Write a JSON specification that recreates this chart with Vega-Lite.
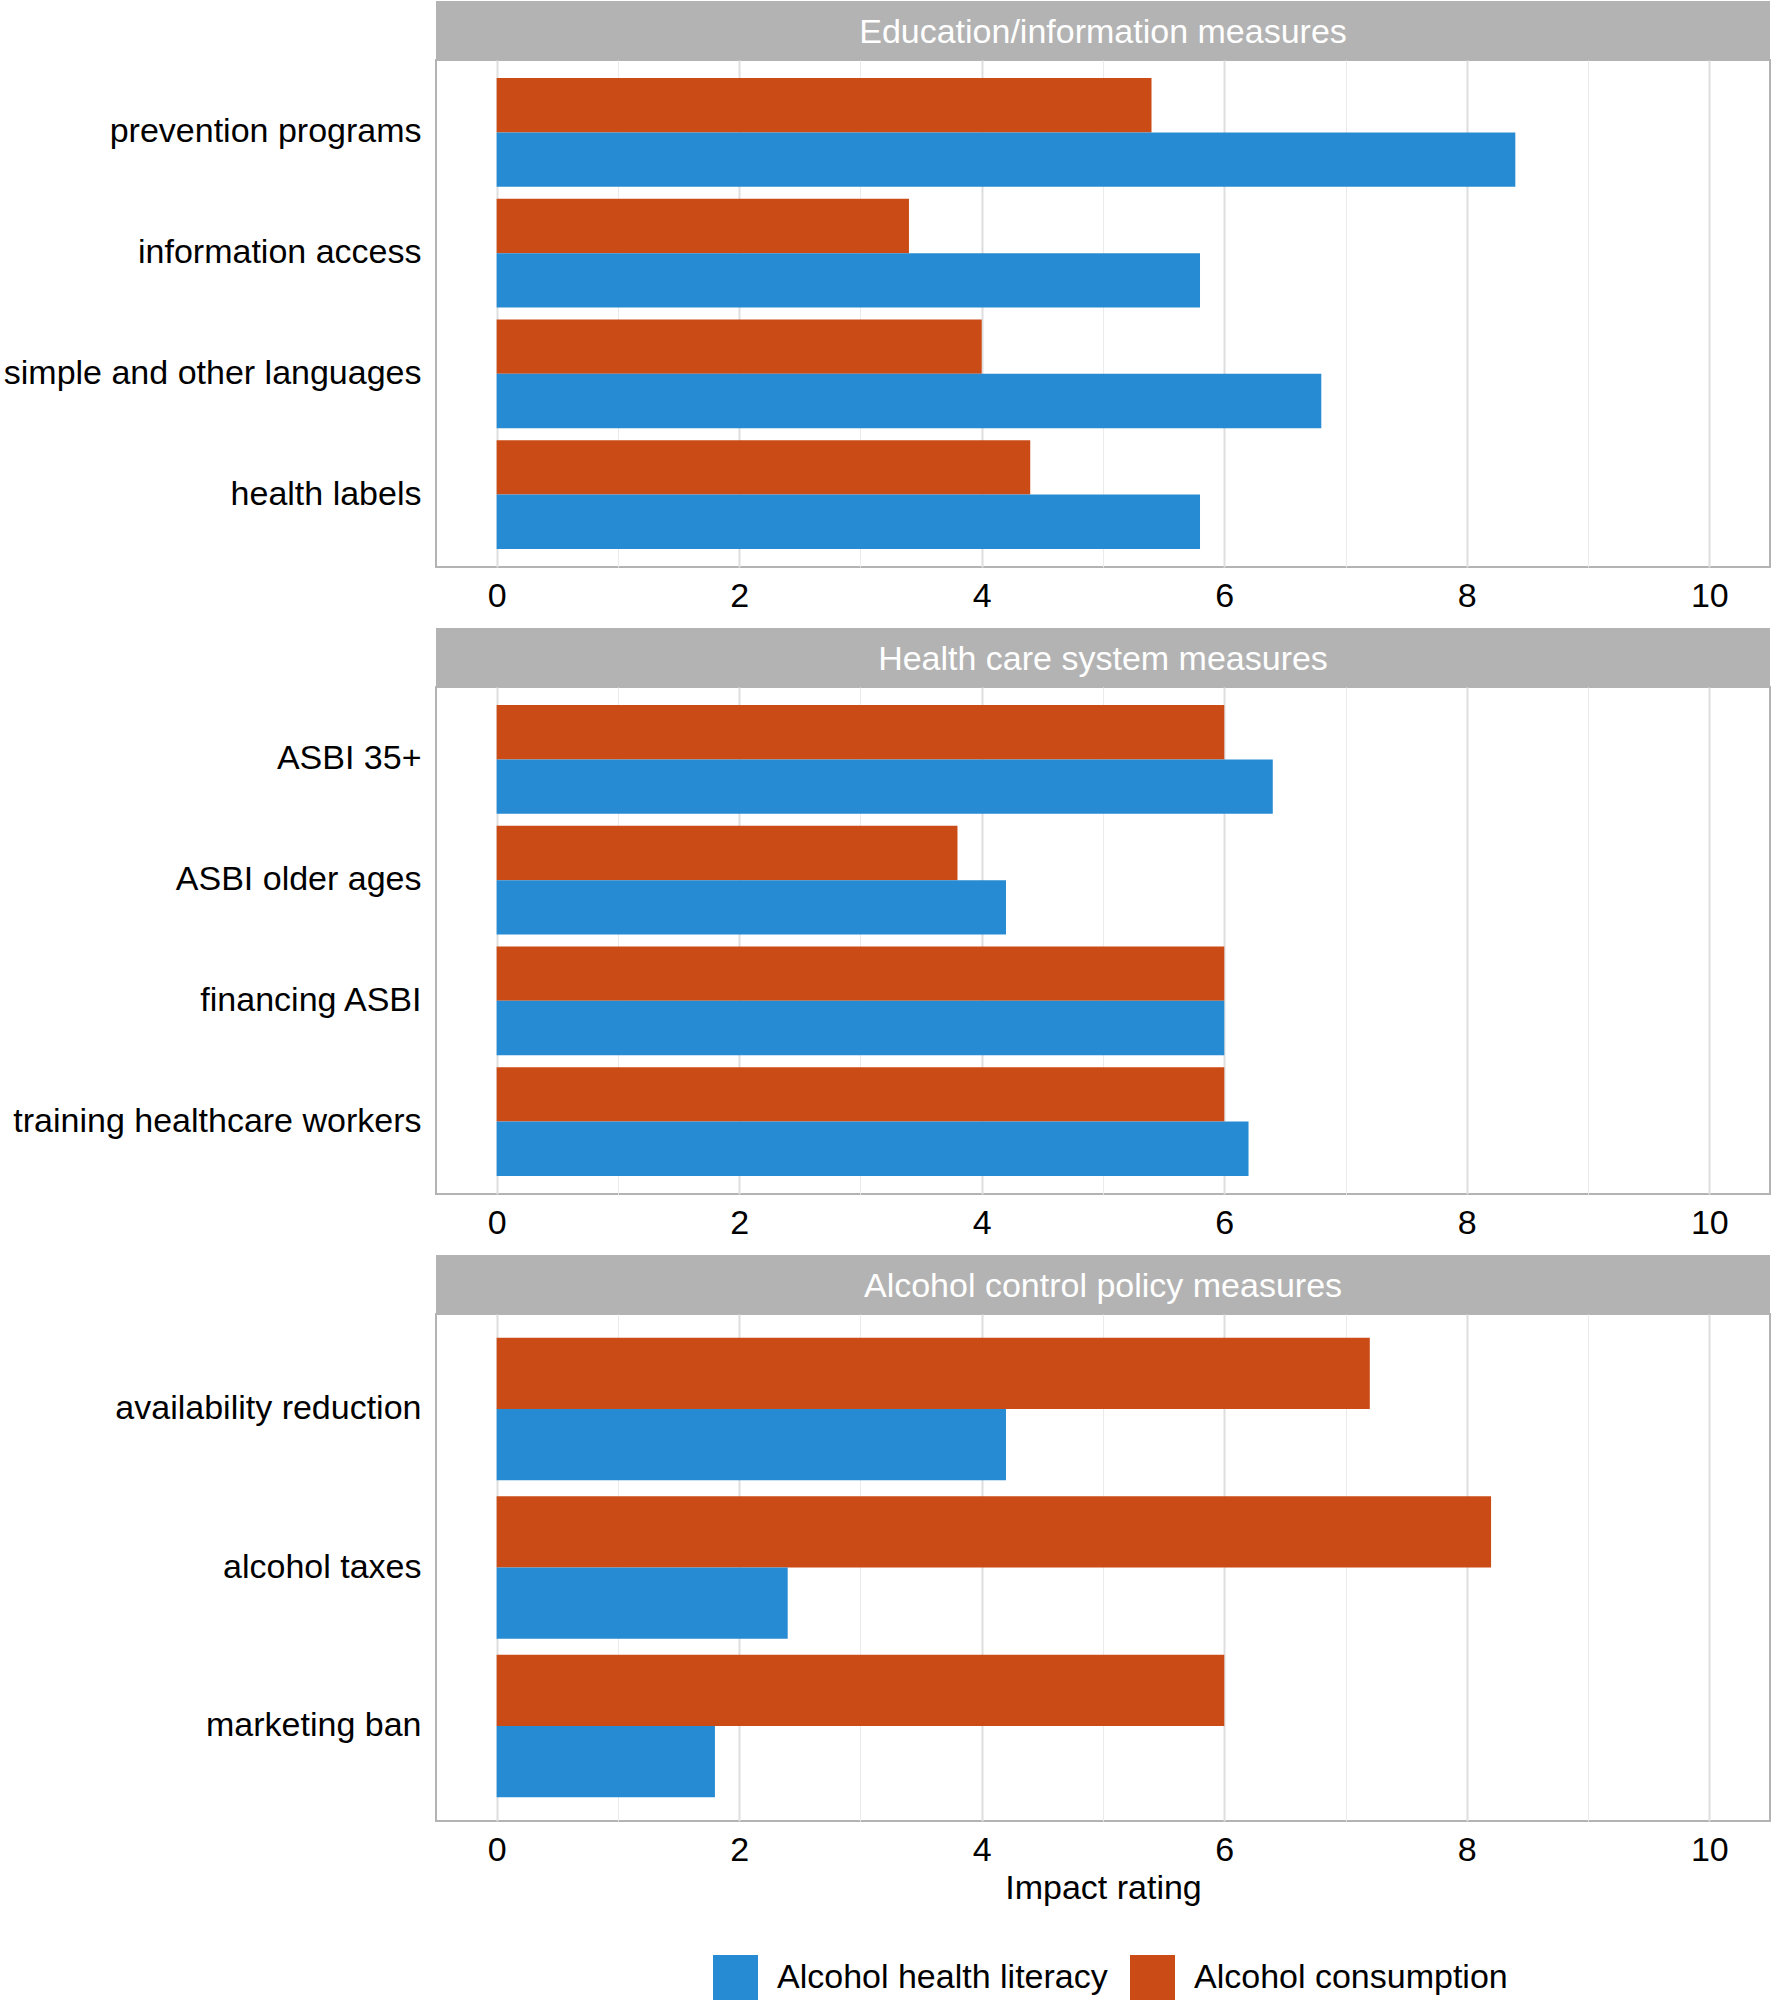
{
  "$schema": "https://vega.github.io/schema/vega-lite/v6.json",
  "background": "white",
  "padding": {"left": 2, "top": 1, "right": 2, "bottom": 2},
  "spacing": 0,
  "datasets": {
    "ratings": [
      {"panel": "Education/information measures", "measure": "prevention programs", "outcome": "Alcohol consumption", "rating": 5.4},
      {"panel": "Education/information measures", "measure": "prevention programs", "outcome": "Alcohol health literacy", "rating": 8.4},
      {"panel": "Education/information measures", "measure": "information access", "outcome": "Alcohol consumption", "rating": 3.4},
      {"panel": "Education/information measures", "measure": "information access", "outcome": "Alcohol health literacy", "rating": 5.8},
      {"panel": "Education/information measures", "measure": "simple and other languages", "outcome": "Alcohol consumption", "rating": 4.0},
      {"panel": "Education/information measures", "measure": "simple and other languages", "outcome": "Alcohol health literacy", "rating": 6.8},
      {"panel": "Education/information measures", "measure": "health labels", "outcome": "Alcohol consumption", "rating": 4.4},
      {"panel": "Education/information measures", "measure": "health labels", "outcome": "Alcohol health literacy", "rating": 5.8},
      {"panel": "Health care system measures", "measure": "ASBI 35+", "outcome": "Alcohol consumption", "rating": 6.0},
      {"panel": "Health care system measures", "measure": "ASBI 35+", "outcome": "Alcohol health literacy", "rating": 6.4},
      {"panel": "Health care system measures", "measure": "ASBI older ages", "outcome": "Alcohol consumption", "rating": 3.8},
      {"panel": "Health care system measures", "measure": "ASBI older ages", "outcome": "Alcohol health literacy", "rating": 4.2},
      {"panel": "Health care system measures", "measure": "financing ASBI", "outcome": "Alcohol consumption", "rating": 6.0},
      {"panel": "Health care system measures", "measure": "financing ASBI", "outcome": "Alcohol health literacy", "rating": 6.0},
      {"panel": "Health care system measures", "measure": "training healthcare workers", "outcome": "Alcohol consumption", "rating": 6.0},
      {"panel": "Health care system measures", "measure": "training healthcare workers", "outcome": "Alcohol health literacy", "rating": 6.2},
      {"panel": "Alcohol control policy measures", "measure": "availability reduction", "outcome": "Alcohol consumption", "rating": 7.2},
      {"panel": "Alcohol control policy measures", "measure": "availability reduction", "outcome": "Alcohol health literacy", "rating": 4.2},
      {"panel": "Alcohol control policy measures", "measure": "alcohol taxes", "outcome": "Alcohol consumption", "rating": 8.2},
      {"panel": "Alcohol control policy measures", "measure": "alcohol taxes", "outcome": "Alcohol health literacy", "rating": 2.4},
      {"panel": "Alcohol control policy measures", "measure": "marketing ban", "outcome": "Alcohol consumption", "rating": 6.0},
      {"panel": "Alcohol control policy measures", "measure": "marketing ban", "outcome": "Alcohol health literacy", "rating": 1.8}
    ],
    "strips": [
      {"panel": "Education/information measures"},
      {"panel": "Health care system measures"},
      {"panel": "Alcohol control policy measures"}
    ]
  },
  "vconcat": [
    {
      "width": 1334, "height": 58,
      "view": {"fill": "#b3b3b3", "stroke": null},
      "data": {"name": "strips"},
      "transform": [{"filter": "datum.panel === 'Education/information measures'"}],
      "mark": {"type": "text", "color": "white", "fontSize": 34, "font": "Liberation Sans", "align": "center", "baseline": "middle", "dy": 3},
      "encoding": {"text": {"field": "panel", "type": "nominal"}}
    },
    {
      "width": 1334, "height": 507,
      "data": {"name": "ratings"},
      "transform": [{"filter": "datum.panel === 'Education/information measures'"}],
      "mark": {"type": "bar"},
      "encoding": {
        "y": {"field": "measure", "type": "nominal", "sort": ["prevention programs", "information access", "simple and other languages", "health labels"], "scale": {"paddingInner": 0.1, "paddingOuter": 0.15}, "axis": {"title": null}},
        "yOffset": {"field": "outcome", "type": "nominal", "sort": ["Alcohol consumption", "Alcohol health literacy"], "scale": {"paddingInner": 0, "paddingOuter": 0}},
        "x": {"field": "rating", "type": "quantitative", "scale": {"domain": [-0.5, 10.5], "nice": false}, "axis": {"title": null, "values": [0,1,2,3,4,5,6,7,8,9,10], "labelExpr": "datum.value % 2 === 0 ? datum.label : ''", "gridColor": {"condition": {"test": "datum.value % 2 === 0", "value": "#dedede"}, "value": "#ebebeb"}, "gridWidth": {"condition": {"test": "datum.value % 2 === 0", "value": 2}, "value": 1}, "minExtent": 60}},
        "x2": {"datum": 0},
        "color": {"field": "outcome", "type": "nominal", "scale": {"domain": ["Alcohol health literacy", "Alcohol consumption"], "range": ["#268BD2", "#CB4B16"]}, "legend": {"title": null, "orient": "none", "direction": "horizontal", "legendX": 277, "legendY": 1954, "symbolType": "square", "symbolSize": 2025, "symbolStrokeWidth": 0, "symbolOpacity": 1, "labelFontSize": 34, "labelFont": "Liberation Sans", "labelColor": "black", "labelLimit": 700, "labelOffset": 19, "columnPadding": 22}}
      }
    },
    {
      "width": 1334, "height": 58,
      "view": {"fill": "#b3b3b3", "stroke": null},
      "data": {"name": "strips"},
      "transform": [{"filter": "datum.panel === 'Health care system measures'"}],
      "mark": {"type": "text", "color": "white", "fontSize": 34, "font": "Liberation Sans", "align": "center", "baseline": "middle", "dy": 3},
      "encoding": {"text": {"field": "panel", "type": "nominal"}}
    },
    {
      "width": 1334, "height": 507,
      "data": {"name": "ratings"},
      "transform": [{"filter": "datum.panel === 'Health care system measures'"}],
      "mark": {"type": "bar"},
      "encoding": {
        "y": {"field": "measure", "type": "nominal", "sort": ["ASBI 35+", "ASBI older ages", "financing ASBI", "training healthcare workers"], "scale": {"paddingInner": 0.1, "paddingOuter": 0.15}, "axis": {"title": null}},
        "yOffset": {"field": "outcome", "type": "nominal", "sort": ["Alcohol consumption", "Alcohol health literacy"], "scale": {"paddingInner": 0, "paddingOuter": 0}},
        "x": {"field": "rating", "type": "quantitative", "scale": {"domain": [-0.5, 10.5], "nice": false}, "axis": {"title": null, "values": [0,1,2,3,4,5,6,7,8,9,10], "labelExpr": "datum.value % 2 === 0 ? datum.label : ''", "gridColor": {"condition": {"test": "datum.value % 2 === 0", "value": "#dedede"}, "value": "#ebebeb"}, "gridWidth": {"condition": {"test": "datum.value % 2 === 0", "value": 2}, "value": 1}, "minExtent": 60}},
        "x2": {"datum": 0},
        "color": {"field": "outcome", "type": "nominal", "scale": {"domain": ["Alcohol health literacy", "Alcohol consumption"], "range": ["#268BD2", "#CB4B16"]}}
      }
    },
    {
      "width": 1334, "height": 58,
      "view": {"fill": "#b3b3b3", "stroke": null},
      "data": {"name": "strips"},
      "transform": [{"filter": "datum.panel === 'Alcohol control policy measures'"}],
      "mark": {"type": "text", "color": "white", "fontSize": 34, "font": "Liberation Sans", "align": "center", "baseline": "middle", "dy": 3},
      "encoding": {"text": {"field": "panel", "type": "nominal"}}
    },
    {
      "width": 1334, "height": 507,
      "data": {"name": "ratings"},
      "transform": [{"filter": "datum.panel === 'Alcohol control policy measures'"}],
      "mark": {"type": "bar"},
      "encoding": {
        "y": {"field": "measure", "type": "nominal", "sort": ["availability reduction", "alcohol taxes", "marketing ban"], "scale": {"paddingInner": 0.1, "paddingOuter": 0.15}, "axis": {"title": null}},
        "yOffset": {"field": "outcome", "type": "nominal", "sort": ["Alcohol consumption", "Alcohol health literacy"], "scale": {"paddingInner": 0, "paddingOuter": 0}},
        "x": {"field": "rating", "type": "quantitative", "scale": {"domain": [-0.5, 10.5], "nice": false}, "axis": {"title": "Impact rating", "titlePadding": 4, "values": [0,1,2,3,4,5,6,7,8,9,10], "labelExpr": "datum.value % 2 === 0 ? datum.label : ''", "gridColor": {"condition": {"test": "datum.value % 2 === 0", "value": "#dedede"}, "value": "#ebebeb"}, "gridWidth": {"condition": {"test": "datum.value % 2 === 0", "value": 2}, "value": 1}}},
        "x2": {"datum": 0},
        "color": {"field": "outcome", "type": "nominal", "scale": {"domain": ["Alcohol health literacy", "Alcohol consumption"], "range": ["#268BD2", "#CB4B16"]}}
      }
    }
  ],
  "resolve": {"scale": {"x": "independent", "y": "independent", "yOffset": "independent", "color": "shared"}},
  "config": {
    "font": "Liberation Sans",
    "view": {"stroke": "#b3b3b3", "strokeWidth": 2},
    "axis": {"labelFont": "Liberation Sans", "labelFontSize": 34, "labelColor": "black", "titleFont": "Liberation Sans", "titleFontSize": 34, "titleColor": "black", "titleFontWeight": "normal", "ticks": false, "domain": false, "labelLimit": 700},
    "axisY": {"labelPadding": 15, "gridColor": "#dedede", "gridWidth": 2},
    "axisX": {"labelPadding": 12}
  }
}
